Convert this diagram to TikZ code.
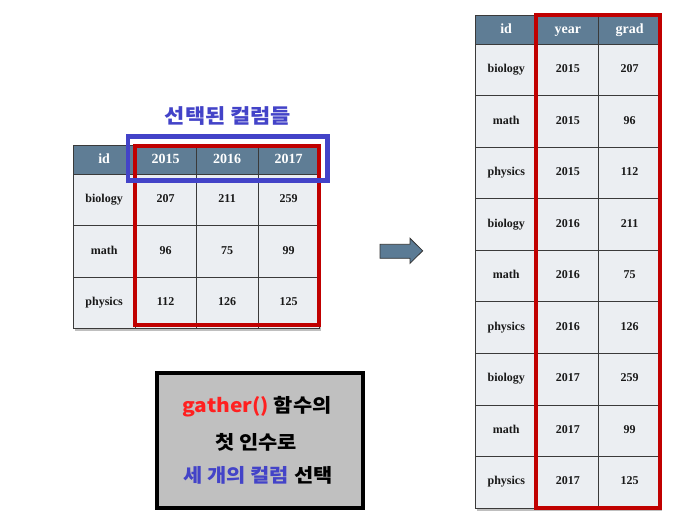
\documentclass[tikz,border=0pt]{standalone}
\usepackage{fontspec}
\setmainfont{Liberation Serif}
\newfontfamily\kr{Noto Sans CJK KR}[FakeStretch=1.1]
\definecolor{hdrc}{HTML}{5F7D95}
\definecolor{cellc}{HTML}{EBEEF2}
\definecolor{gridc}{HTML}{3A3A3A}
\definecolor{redc}{HTML}{C00000}
\definecolor{bluec}{HTML}{4343C8}
\definecolor{boxgray}{HTML}{C0C0C0}
\definecolor{txtred}{HTML}{FF2020}
\definecolor{arrc}{HTML}{5B7B95}
\begin{document}
\begin{tikzpicture}[x=1pt,y=-1pt,
  hdr/.style={draw=gridc, line width=0.8pt, fill=hdrc, text=white, font=\fontsize{14}{16}\selectfont\bfseries,
    minimum width=61.5pt, minimum height=29pt, inner sep=0pt, text height=9.5pt, text depth=3pt, anchor=north west},
  cell/.style={draw=gridc, line width=0.8pt, fill=cellc, text=black!90, font=\fontsize{12}{14}\selectfont\bfseries,
    minimum width=61.5pt, minimum height=51.5pt, inner sep=0pt, text height=8pt, text depth=2.5pt, anchor=north west},
  shadowbox/.style={fill=black!25},
  selbox/.style={draw=redc, line width=4pt},
  colbox/.style={draw=bluec, line width=4.5pt},
  krtext/.style={font=\kr\bfseries\fontsize{19}{21}\selectfont, inner sep=0pt}
]
\useasboundingbox (0,0) rectangle (699,529);
\fill[white] (0,0) rectangle (699,529);

% ---------- left table ----------
\fill[shadowbox] (75,148) rectangle (321,331);
\foreach \t [count=\i from 0] in {id,2015,2016,2017}
  \node[hdr] (Lh\i) at ({73+61.5*\i},145) {\t};
\foreach \a/\b/\c/\d [count=\r from 0] in {biology/207/211/259, math/96/75/99, physics/112/126/125} {
  \node[cell] (L\r a) at (73,{174+51.5*\r}) {\a};
  \node[cell] (L\r b) at (134.5,{174+51.5*\r}) {\b};
  \node[cell] (L\r c) at (196,{174+51.5*\r}) {\c};
  \node[cell] (L\r d) at (257.5,{174+51.5*\r}) {\d};
}
\draw[selbox] (135,146.5) rectangle (319,325);
\draw[colbox] (128,136.5) rectangle (327.5,180.5);
\node[krtext, text=bluec, font=\kr\bfseries\fontsize{20}{22}\selectfont] (title) at (228,116) {선택된 컬럼들};

% ---------- arrow ----------
\draw[fill=arrc, draw=black!80, line width=0.8pt]
  (380,244.3) -- (410,244.3) -- (410,238.3) -- (422.7,250.8) -- (410,263.3) -- (410,258.3) -- (380,258.3) -- cycle;

% ---------- right table ----------
\fill[shadowbox] (477,18) rectangle (662,510.5);
\foreach \t [count=\i from 0] in {id,year,grad}
  \node[hdr] (Rh\i) at ({475+61.7*\i},15) {\t};
\foreach \a/\b/\c [count=\r from 0] in {biology/2015/207, math/2015/96, physics/2015/112,
    biology/2016/211, math/2016/75, physics/2016/126, biology/2017/259, math/2017/99, physics/2017/125} {
  \node[cell, minimum width=61.7pt] (R\r a) at (475,{44+51.5*\r}) {\a};
  \node[cell, minimum width=61.7pt] (R\r b) at (536.7,{44+51.5*\r}) {\b};
  \node[cell, minimum width=61.7pt] (R\r c) at (598.4,{44+51.5*\r}) {\c};
}
\draw[selbox] (536,15) rectangle (660,507.5);

% ---------- note box ----------
\node[draw=black, line width=4pt, fill=boxgray, minimum width=206pt, minimum height=135pt, inner sep=0pt] (note) at (260,440.5) {};
\node[krtext] (n1) at (257,407) {\textcolor{txtred}{gather()} 함수의};
\node[krtext] (n2) at (256,442) {첫 인수로};
\node[krtext] (n3) at (258,475) {\textcolor{bluec}{세 개의 컬럼} 선택};
\end{tikzpicture}
\end{document}
